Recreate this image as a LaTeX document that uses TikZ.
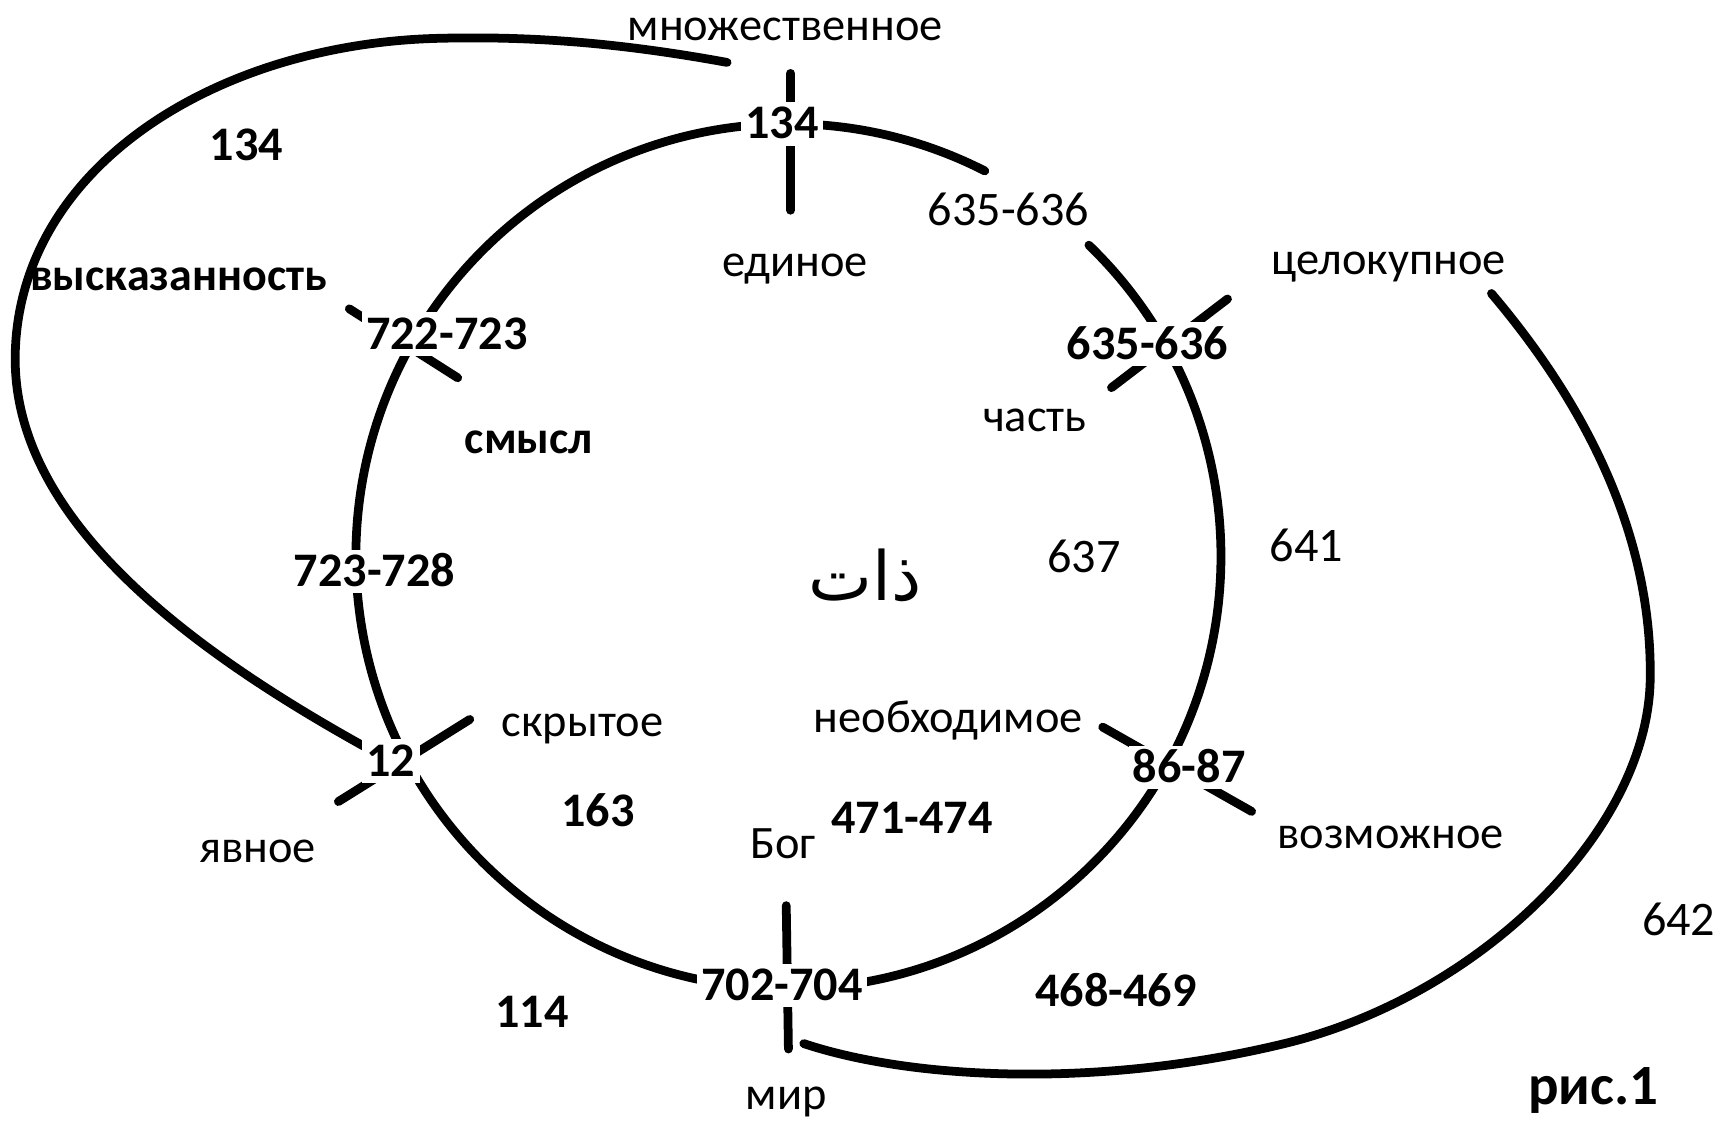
\documentclass[tikz,border=0pt]{standalone}
\usepackage{fontspec}
\setmainfont{Carlito}
\newfontfamily\arabicfont[Script=Arabic]{DejaVu Sans}
\TeXXeTstate=1
\pgfdeclarelayer{bg}
\pgfsetlayers{bg,main}
\begin{document}
\begin{tikzpicture}[x=0.5pt,y=-0.5pt,
  lbl/.style={font=\fontsize{22}{26}\selectfont, text height=13.9pt, text depth=0pt, inner sep=0pt},
  wlbl/.style={font=\fontsize{21.2}{26}\selectfont, text height=13.9pt, text depth=0pt, inner sep=0pt},
  blbl/.style={font=\fontsize{22}{26}\selectfont\bfseries, text height=13.9pt, text depth=0pt, inner sep=0pt},
  bwlbl/.style={font=\fontsize{21}{26}\selectfont\bfseries, text height=13.9pt, text depth=0pt, inner sep=0pt},
  hub/.style={blbl, fill=white, inner xsep=2pt, inner ysep=3pt},
  curve/.style={line width=4pt, line cap=round},
  tickline/.style={line width=4pt, line cap=round}]
\useasboundingbox (0,0) rectangle (1568,1025);
\coordinate (ctr) at (720,508);

% hub labels (crossings)
\node[hub] (n134) at (714,113) {134};
\node[hub] (n722) at (408,305) {722-723};
\node[hub] (n635) at (1048,314) {635-636};
\node[hub] (n723) at (342,522) {723-728};
\node[hub] (n12)  at (357,695) {12};
\node[hub] (n86)  at (1086,701) {86-87};
\node[hub] (n702) at (714,900) {702-704};

% other labels
\node[wlbl]  (mnozh) at (717,23) {множественное};
\node[blbl]  (a134)  at (225,133) {134};
\node[lbl]   (b635)  at (921,192) {635-636};
\node[wlbl]  (edin)  at (726,239) {единое};
\node[wlbl]  (celo)  at (1268,237) {целокупное};
\node[bwlbl] (vysk)  at (163,251) {высказанность};
\node[wlbl]  (chast) at (945,380) {часть};
\node[bwlbl] (smysl) at (483,400) {смысл};
\node (dhat) at (790,525) {\fontsize{31}{36}\selectfont\arabicfont\beginR ذات\endR};
\node[lbl]   (n637)  at (990,509) {637};
\node[lbl]   (n641)  at (1193,499) {641};
\node[wlbl]  (neob)  at (866,655) {необходимое};
\node[wlbl]  (skryt) at (532,659) {скрытое};
\node[blbl]  (n163)  at (546,741) {163};
\node[blbl]  (n471)  at (833,747) {471-474};
\node[wlbl]  (bog)   at (715,770) {Бог};
\node[wlbl]  (yavn)  at (235,774) {явное};
\node[wlbl]  (vozm)  at (1270,761) {возможное};
\node[lbl]   (n642)  at (1533,840) {642};
\node[blbl]  (n468)  at (1019,905) {468-469};
\node[blbl]  (n114)  at (486,924) {114};
\node[wlbl]  (mir)   at (718,999) {мир};
\node[blbl, font=\fontsize{26}{30}\selectfont\bfseries, text height=16.4pt] (ris) at (1455,992) {рис.1};

% crossing tick end points
\coordinate (t134a) at (722,67);   \coordinate (t134b) at (722,192);
\coordinate (t702a) at (718,827);  \coordinate (t702b) at (720,958);
\coordinate (t722a) at (319,282);  \coordinate (t722b) at (418,345);
\coordinate (t635a) at (1121,273); \coordinate (t635b) at (1015,354);
\coordinate (t12a)  at (429,657);  \coordinate (t12b)  at (309,732);
\coordinate (t86a)  at (1007,664); \coordinate (t86b)  at (1143,741);
\coordinate (ltop) at (664,57);
\coordinate (rtop) at (1362,268);
\coordinate (rbot) at (734,953);

\begin{pgfonlayer}{bg}
  % inner circle with a gap at upper right
  \draw[curve] (ctr) ++(-46:395) arc[start angle=-46, end angle=297, radius=395];
  % ticks
  \draw[tickline] (t134a) -- (t134b);
  \draw[tickline] (t702a) -- (t702b);
  \draw[tickline] (t722a) -- (t722b);
  \draw[tickline] (t635a) -- (t635b);
  \draw[tickline] (t12a) -- (t12b);
  \draw[tickline] (t86a) -- (t86b);
  % left outer curve
  \draw[curve] (ltop) .. controls (560,38) and (480,33) .. (400,35)
                      .. controls (200,40) and (20,150) .. (14,320)
                      .. controls (8,480) and (190,605) .. (n12.center);
  % right outer curve
  \draw[curve] (rbot) .. controls (830,985) and (1000,995) .. (1173,953)
                      .. controls (1350,910) and (1505,760) .. (1507,620)
                      .. controls (1509,480) and (1440,360) .. (rtop);
\end{pgfonlayer}
\end{tikzpicture}
\end{document}
